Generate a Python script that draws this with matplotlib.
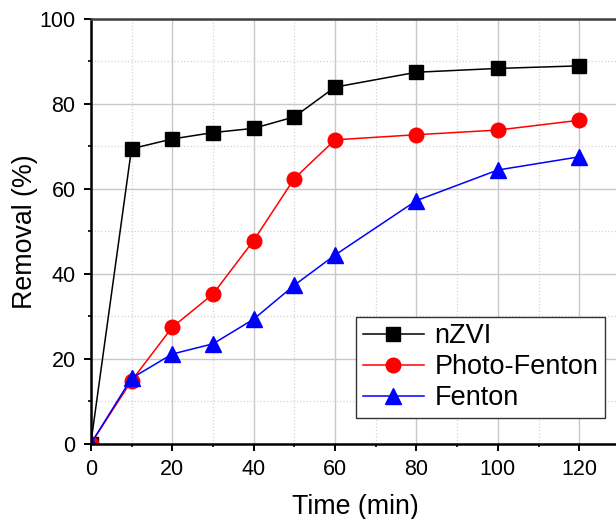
import matplotlib
matplotlib.use('Agg')
import matplotlib.pyplot as plt
from matplotlib.ticker import MultipleLocator

plt.rcParams['font.family'] = ['Liberation Sans', 'DejaVu Sans']

# data
time = [0, 10, 20, 30, 40, 50, 60, 80, 100, 120]
nzvi = [0, 69.4, 71.7, 73.2, 74.2, 76.9, 83.9, 87.4, 88.3, 88.9]
photo_fenton = [0, 14.8, 27.4, 35.2, 47.8, 62.4, 71.5, 72.7, 73.8, 76.1]
fenton = [0, 15.4, 21.1, 23.5, 29.3, 37.3, 44.4, 57.2, 64.4, 67.5]

fig = plt.figure(figsize=(6.16, 5.19), dpi=100)
ax = fig.add_axes([0.1474, 0.145, 0.859, 0.819])

ax.plot(time, nzvi, color='black', lw=1.1, marker='s', ms=10, label='nZVI')
ax.plot(time, photo_fenton, color='red', lw=1.1, marker='o', ms=10.5, label='Photo-Fenton')
ax.plot(time, fenton, color='blue', lw=1.1, marker='^', ms=11, label='Fenton')

ax.set_xlim(0, 130)
ax.set_ylim(0, 100)
ax.xaxis.set_major_locator(MultipleLocator(20))
ax.xaxis.set_minor_locator(MultipleLocator(10))
ax.yaxis.set_major_locator(MultipleLocator(20))
ax.yaxis.set_minor_locator(MultipleLocator(10))

ax.grid(True, which='major', color='#c8c8c8', lw=1, ls='-')
ax.grid(True, which='minor', color='#d4d4d4', lw=0.9, ls=':')
ax.set_axisbelow(True)

for s in ['left', 'bottom']:
    ax.spines[s].set_linewidth(1.8)
    ax.spines[s].set_color('black')
ax.spines['top'].set_linewidth(1.8)
ax.spines['top'].set_color('#404040')
ax.spines['right'].set_visible(False)

ax.tick_params(which='major', direction='out', length=5, width=1.4, labelsize=15.5, pad=6)
ax.tick_params(which='minor', direction='out', length=2.5, width=1.2)
ax.tick_params(top=False, right=False, which='both')

ax.set_xlabel('Time (min)', fontsize=19.3, labelpad=10)
ax.set_ylabel('Removal (%)', fontsize=19.3, labelpad=1)

leg = ax.legend(loc='lower right', bbox_to_anchor=(0.972, 0.061), borderaxespad=0,
                fontsize=19.5, fancybox=False, edgecolor='#333333', framealpha=1,
                handlelength=2.25, handletextpad=0.4, labelspacing=0.18, borderpad=0.25)
leg.get_frame().set_linewidth(1.0)

fig.savefig('out.png', dpi=100)
